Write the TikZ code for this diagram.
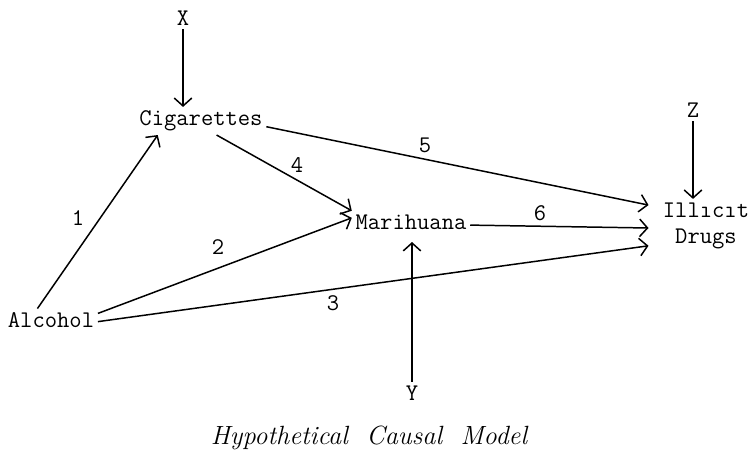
\documentclass[tikz,border=0pt]{standalone}
\usetikzlibrary{arrows.meta}

\begin{document}
\begin{tikzpicture}
[
  x=0.02cm, y=-0.02cm,
  var/.style={font=\fontsize{13.6}{15}\ttfamily, inner sep=2pt},
  num/.style={font=\fontsize{13.6}{15}\ttfamily, inner sep=0pt},
  link/.style={-{Straight Barb[length=4.5pt,width=10pt]}, line width=0.85pt}
]
  \useasboundingbox (0,0) rectangle (754,452);

  % variables
  \node[var] (x) at (183,18) {X};
  \node[var] (cig) at (201,121) {Cigarettes};
  \node[var] (alc) at (51,320) {Alcohol};
  \node[var] (mar) at (411,222) {Marihuana};
  \node[var, align=center, inner xsep=8pt] (ill) at (706,226) {Ill\i c\i t\\Drugs};
  \node[var] (z) at (693,110) {Z};
  \node[var] (y) at (412,393) {Y};

  % path numbers
  \node[num] (n1) at (78,218) {1};
  \node[num] (n2) at (218,247) {2};
  \node[num] (n3) at (333,303) {3};
  \node[num] (n4) at (297,165) {4};
  \node[num] (n5) at (425,145) {5};
  \node[num] (n6) at (540,213) {6};

  \node (cap) at (369,438) {\fontsize{15}{18}\itshape Hypothetical\ \ Causal\ \ Model};

  % arrows
  \draw[link] (x) -- (x |- cig.north);
  \draw[link] (z) -- (z |- ill.north);
  \draw[link, shorten >=5pt] (y) -- (y |- mar.south);
  \draw[link] (alc.140) -- (cig.198);
  \draw[link] (alc.8) -- (mar.176);
  \draw[link] (alc.-2) -- (ill.199);
  \draw[link] (cig.-42) -- (mar.north west);
  \draw[link] (cig.-5) -- (ill.160);
  \draw[link] (mar.-3) -- (ill.182);
\end{tikzpicture}
\end{document}
